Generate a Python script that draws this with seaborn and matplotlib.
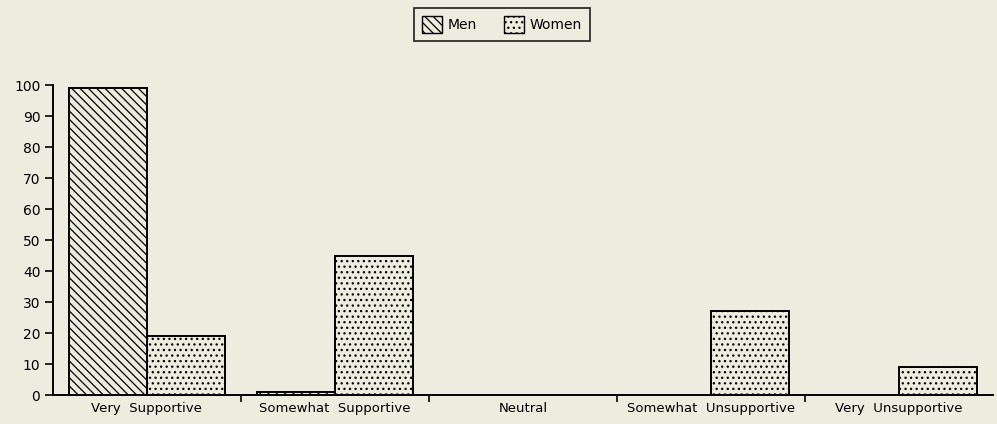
import matplotlib
matplotlib.use("Agg")
import matplotlib.pyplot as plt
import seaborn as sns
import pandas as pd
from matplotlib.patches import Patch
from matplotlib.ticker import FixedLocator

categories = ["Very  Supportive", "Somewhat  Supportive", "Neutral",
              "Somewhat  Unsupportive", "Very  Unsupportive"]
men = [99, 1, 0, 0, 0]
women = [19, 45, 0, 27, 9]
y_ticks = [0, 10, 20, 30, 40, 50, 60, 70, 80, 90, 100]

df = pd.DataFrame({
    "category": categories * 2,
    "group": ["Men"] * len(categories) + ["Women"] * len(categories),
    "value": men + women,
})

bg = "#ececdf"
sns.set_theme(style="white")
plt.rcParams["font.family"] = ["DejaVu Sans"]
plt.rcParams["text.color"] = "black"
plt.rcParams["hatch.linewidth"] = 0.9
plt.rcParams["hatch.color"] = "black"

fig = plt.figure(figsize=(9.97, 4.24), dpi=100, facecolor=bg)
ax = fig.add_axes([0.053, 0.068, 0.943, 0.731])
ax.set_facecolor(bg)

sns.barplot(data=df, x="category", y="value", hue="group", order=categories,
            hue_order=["Men", "Women"], palette=[bg, bg], width=0.83,
            edgecolor="black", linewidth=1.4, saturation=1, legend=False, ax=ax)

hatches = {"Men": "\\\\\\\\", "Women": "..."}
n = len(categories)
for i, patch in enumerate(ax.patches[:2 * n]):
    patch.set_hatch(hatches["Men"] if i < n else hatches["Women"])
    if patch.get_height() == 0:
        patch.set_visible(False)

ax.set_xlim(-0.5, n - 0.5)
ax.set_ylim(0, 100)
ax.set_yticks(y_ticks)
ax.set_yticklabels([str(v) for v in y_ticks], fontsize=10)
ax.set_xticks(range(n))
ax.set_xticklabels(categories, fontsize=9.5)
ax.xaxis.set_minor_locator(FixedLocator([i + 0.5 for i in range(n - 1)]))
ax.tick_params(axis="x", which="major", length=0, pad=5, colors="black")
ax.tick_params(axis="x", which="minor", length=5, width=1.2, direction="out",
               bottom=True, color="black")
ax.tick_params(axis="y", length=6, width=1.2, direction="out", left=True,
               pad=3, colors="black")
ax.set_xlabel("")
ax.set_ylabel("")
for side in ["top", "right"]:
    ax.spines[side].set_visible(False)
for side in ["left", "bottom"]:
    ax.spines[side].set_color("black")
    ax.spines[side].set_linewidth(1.4)

handles = [Patch(facecolor=bg, edgecolor="black", hatch=hatches["Men"], label="Men"),
           Patch(facecolor=bg, edgecolor="black", hatch=hatches["Women"], label="Women")]
leg = fig.legend(handles=handles, loc="center", bbox_to_anchor=(0.5035, 0.9425),
                 ncol=2, frameon=True, fontsize=10, handlelength=1.4,
                 handleheight=1.5, handletextpad=0.4, columnspacing=2.0,
                 borderpad=0.6, borderaxespad=0, fancybox=False)
leg.get_frame().set_edgecolor("black")
leg.get_frame().set_linewidth(1.3)
leg.get_frame().set_facecolor(bg)
for t in leg.get_texts():
    t.set_color("black")

fig.savefig("out.png", dpi=100, facecolor=bg)
